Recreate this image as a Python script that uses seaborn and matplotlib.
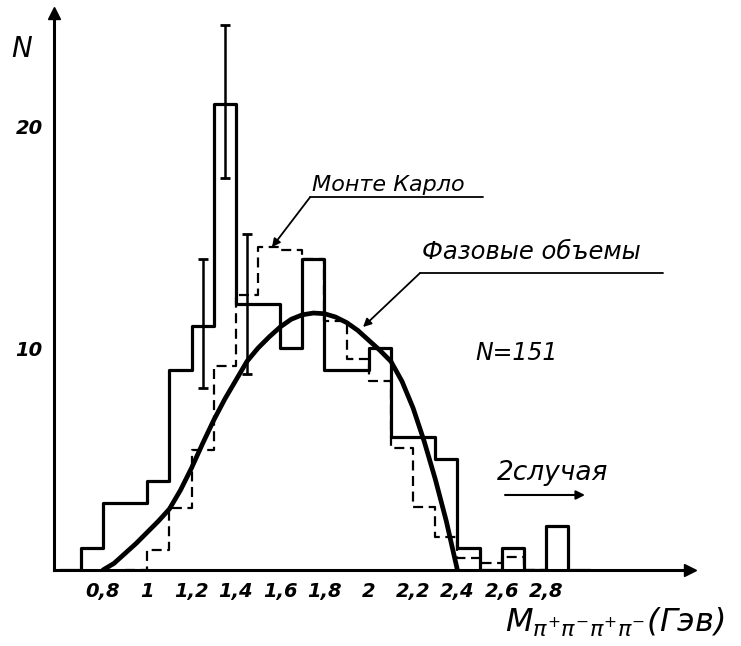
import numpy as np
import pandas as pd
import matplotlib
matplotlib.use("Agg")
import matplotlib.pyplot as plt
import seaborn as sns

# ---------------- data ----------------
# experimental histogram (solid), bins of 0.1 GeV
hist_edges = [0.6, 0.7, 0.8, 0.9, 1.0, 1.1, 1.2, 1.3, 1.4, 1.5, 1.6, 1.7, 1.8,
              1.9, 2.0, 2.1, 2.2, 2.3, 2.4, 2.5, 2.6, 2.7, 2.8, 2.9, 3.0]
hist_counts = [0, 1, 3, 3, 4, 9, 11, 21, 12, 12, 10, 14, 9,
               9, 10, 6, 6, 5, 1, 0, 1, 0, 2, 0]

# Monte Carlo histogram (dashed)
mc_edges = [0.9, 1.0, 1.1, 1.2, 1.3, 1.4, 1.5, 1.6, 1.7, 1.8, 1.9, 2.0,
            2.1, 2.2, 2.3, 2.4, 2.5, 2.6, 2.7, 2.8]
mc_counts = [0, 0.9, 2.8, 5.4, 9.2, 12.4, 14.55, 14.4, 14.0, 11.2, 9.5,
             8.5, 5.5, 2.85, 1.5, 0.55, 0.3, 0.6, 0]

# phase-space curve
phase_x = [0.80, 0.85, 0.90, 0.95, 1.00, 1.05, 1.10, 1.15, 1.20, 1.25, 1.30,
           1.35, 1.40, 1.45, 1.50, 1.55, 1.60, 1.65, 1.70, 1.75, 1.80, 1.85,
           1.90, 1.95, 2.00, 2.05, 2.10, 2.15, 2.20, 2.25, 2.30, 2.35, 2.40]
phase_y = [0.0, 0.3, 0.75, 1.2, 1.7, 2.2, 2.75, 3.6, 4.6, 5.7, 6.75,
           7.7, 8.55, 9.4, 10.0, 10.5, 10.95, 11.3, 11.5, 11.58, 11.55, 11.4,
           11.15, 10.8, 10.35, 9.9, 9.4, 8.5, 7.3, 5.8, 4.1, 2.2, 0.0]

# error bars
err_x = [1.25, 1.35, 1.45]
err_y = [11.1, 21.1, 12.0]
err_size = [2.9, 3.45, 3.15]

xtick_values = [0.8, 1.0, 1.2, 1.4, 1.6, 1.8, 2.0, 2.2, 2.4, 2.6, 2.8]
xtick_labels = ["0,8", "1", "1,2", "1,4", "1,6", "1,8", "2", "2,2", "2,4", "2,6", "2,8"]
ytick_values = [10, 20]
ytick_labels = ["10", "20"]

# ---------------- figure ----------------
sns.set_style("white")
plt.rcParams['font.family'] = ['DejaVu Sans']
plt.rcParams['mathtext.fontset'] = 'dejavusans'
plt.rcParams['text.color'] = 'black'

fig = plt.figure(figsize=(7.41, 6.46), dpi=100)
ax = fig.add_axes([54 / 741, 76 / 646, 636 / 741, 557 / 646])

def centers(edges):
    return [(a + b) / 2 for a, b in zip(edges[:-1], edges[1:])]

hist_df = pd.DataFrame({"m": centers(hist_edges), "n": hist_counts})
mc_df = pd.DataFrame({"m": centers(mc_edges), "n": mc_counts})
phase_df = pd.DataFrame({"m": phase_x, "n": phase_y})

sns.histplot(data=mc_df, x="m", weights="n", bins=mc_edges, element="step",
             fill=False, color="black", linewidth=1.6, linestyle=(0, (4.5, 2.5)),
             ax=ax, zorder=2)
sns.histplot(data=hist_df, x="m", weights="n", bins=hist_edges, element="step",
             fill=False, color="black", linewidth=2.3, ax=ax, zorder=3)
sns.lineplot(data=phase_df, x="m", y="n", color="black", linewidth=3.4,
             ax=ax, zorder=4)
ax.errorbar(err_x, err_y, yerr=err_size, fmt="none", ecolor="black",
            elinewidth=1.8, capsize=3.5, capthick=2, zorder=5)

ax.set_xlim(0.579, 3.45)
ax.set_ylim(0, 25.1)
ax.set_xlabel("")
ax.set_ylabel("")

for s in ["top", "right"]:
    ax.spines[s].set_visible(False)
for s in ["left", "bottom"]:
    ax.spines[s].set_linewidth(2.2)
    ax.spines[s].set_color("black")
    ax.spines[s].set_zorder(6)

# axis arrow heads
ax.plot([1], [0], marker=">", markersize=9, color="black",
        transform=ax.transAxes, clip_on=False)
ax.plot([0], [1], marker="^", markersize=8, color="black",
        transform=ax.transAxes, clip_on=False)

tickfont = dict(family="DejaVu Sans", style="italic", weight="bold", size=14)
ax.set_xticks(xtick_values)
ax.set_xticklabels(xtick_labels, fontdict=tickfont)
ax.set_yticks(ytick_values)
ax.set_yticklabels(ytick_labels, fontdict=tickfont)
ax.tick_params(axis="x", direction="inout", length=7, width=1.8, pad=5, colors="black")
ax.tick_params(axis="y", direction="inout", length=8, width=1.8, pad=4, colors="black")

txt = dict(family="DejaVu Sans", style="italic", color="black")

# Монте Карло annotation
ax.text(1.744, 17.1, "Монте Карло", fontsize=16, ha="left", va="baseline", **txt)
ax.plot([1.735, 2.516], [16.8, 16.8], color="black", lw=1.3)
ax.annotate("", xy=(1.563, 14.55), xytext=(1.735, 16.8),
            arrowprops=dict(arrowstyle="-|>", color="black", lw=1.3,
                            mutation_scale=12, shrinkA=0, shrinkB=0))

# Фазовые объемы annotation
ax.text(2.240, 14.0, "Фазовые объемы", fontsize=17.5, ha="left", va="baseline", **txt)
ax.plot([2.231, 3.328], [13.38, 13.38], color="black", lw=1.3)
ax.annotate("", xy=(1.974, 10.95), xytext=(2.231, 13.38),
            arrowprops=dict(arrowstyle="-|>", color="black", lw=1.3,
                            mutation_scale=12, shrinkA=0, shrinkB=0))

ax.text(2.479, 9.77, "N=151", fontsize=17, ha="left", va="center", **txt)
ax.text(2.579, 4.05, "2случая", fontsize=19, ha="left", va="baseline", **txt)
ax.annotate("", xy=(2.976, 3.38), xytext=(2.615, 3.38),
            arrowprops=dict(arrowstyle="-|>", color="black", lw=1.5,
                            mutation_scale=13, shrinkA=0, shrinkB=0))

fig.text(22 / 741, 1 - 49 / 646, "N", fontsize=20, ha="center", va="center",
         family="DejaVu Sans", style="italic", color="black")
fig.text(505 / 741, 1 - 622 / 646,
         r"$M_{\pi^{+}\pi^{-}\pi^{+}\pi^{-}}$" + "(Гэв)",
         fontsize=23, ha="left", va="center", family="DejaVu Sans",
         style="italic", color="black")

fig.savefig("out.png", dpi=100, facecolor="white")
